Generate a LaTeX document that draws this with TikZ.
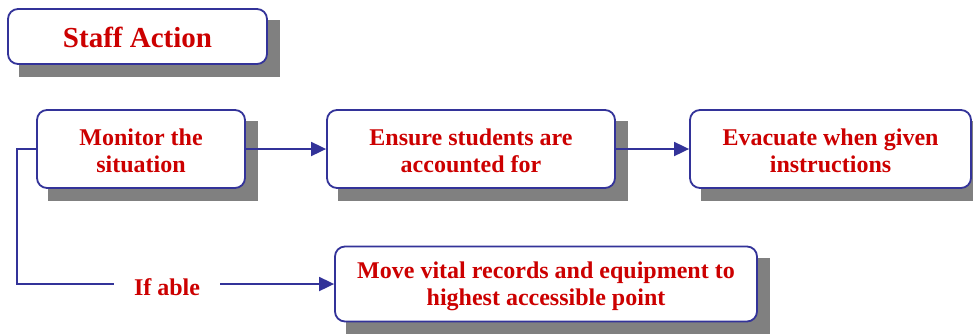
\documentclass[tikz,border=0pt]{standalone}
\usepackage{fontspec}
\setmainfont{Liberation Serif}
\usetikzlibrary{arrows.meta,backgrounds,calc}
\definecolor{txtred}{HTML}{CC0000}
\definecolor{lineblue}{HTML}{333399}
\definecolor{shadowgray}{HTML}{808080}
\newcommand{\topstrut}{\rule{0pt}{21pt}}
\tikzset{
  box/.style={draw=lineblue, line width=1.8pt, rounded corners=10pt, fill=white,
    text=txtred, font=\bfseries\fontsize{24}{27}\selectfont, align=center, inner sep=0pt},
  conn/.style={draw=lineblue, line width=1.8pt},
  arr/.style={conn, -{Triangle[length=15pt,width=14pt]}},
  shadowfill/.style={fill=shadowgray}
}
\begin{document}
\begin{tikzpicture}[x=1pt,y=-1pt]
\useasboundingbox (0,0) rectangle (973,333);
\node[box, minimum width=259pt, minimum height=55pt, font=\bfseries\fontsize{29}{34}\selectfont] (title) at (137.5,36.5) {\rule{0pt}{23pt}Staff Action};
\node[box, minimum width=208pt, minimum height=78pt] (mon) at (141,149) {\topstrut Monitor the\\situation};
\node[box, minimum width=288pt, minimum height=78pt] (ens) at (471,149) {\topstrut Ensure students are\\accounted for};
\node[box, minimum width=281pt, minimum height=78pt] (eva) at (830.5,149) {\topstrut Evacuate when given\\instructions};
\node[box, minimum width=422pt, minimum height=75pt] (mov) at (546,284) {\topstrut Move vital records and equipment to\\highest accessible point};
\node[text=txtred, font=\bfseries\fontsize{24}{27}\selectfont, inner xsep=20pt, inner ysep=0pt, text height=22pt, text depth=0pt] (ifable) at (167,284) {If able};
\begin{scope}[on background layer]
  \foreach \n in {title,mon,ens,eva,mov}{
    \fill[shadowfill] ($(\n.south west)+(12,12)$) rectangle ($(\n.north east)+(12,12)$);
  }
\end{scope}
\draw[arr] (mon.east) -- (ens.west);
\draw[arr] (ens.east) -- (eva.west);
\draw[conn] (mon.west) -- ++(-19,0) |- (ifable.west);
\draw[arr] (ifable.east) -- (mov.west);
\end{tikzpicture}
\end{document}
